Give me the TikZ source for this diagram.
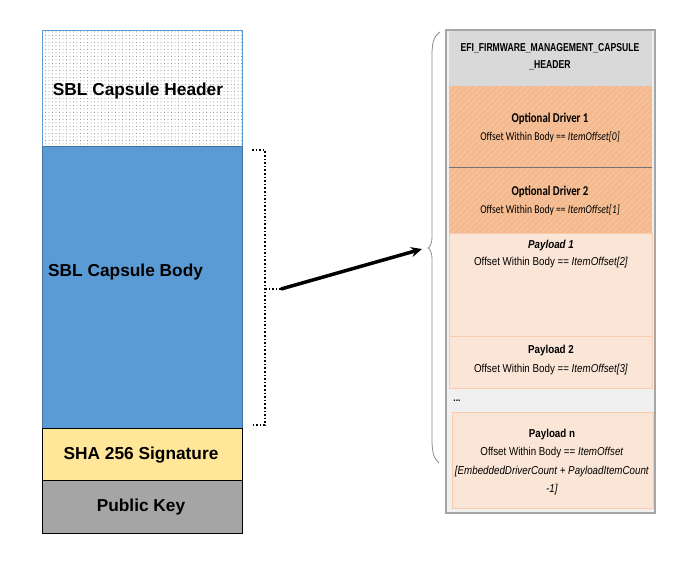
\documentclass[tikz,border=0pt]{standalone}
\usepackage{fontspec}
\setmainfont{Liberation Sans}
\newfontfamily\hdrfont[FakeStretch=0.75]{Liberation Sans}
\newfontfamily\narrowfont[FakeStretch=0.85]{Liberation Sans}
\newfontfamily\calfont[FakeStretch=0.8]{Carlito}
\usetikzlibrary{patterns.meta,arrows.meta}
\definecolor{bodyblue}{HTML}{5B9BD5}
\definecolor{bodyedge}{HTML}{41719C}
\definecolor{shayellow}{HTML}{FFE699}
\definecolor{keygray}{HTML}{A5A5A5}
\definecolor{panelgray}{HTML}{F0F0F0}
\definecolor{paneledge}{HTML}{A6A6A6}
\definecolor{hdrgray}{HTML}{D9D9D9}
\definecolor{drvorange}{HTML}{F4B98E}
\definecolor{drvstripe}{HTML}{F7C8A4}
\definecolor{payfill}{HTML}{FBE5D6}
\definecolor{payedge}{HTML}{F8CBAD}
\definecolor{braceg}{HTML}{8C8C8C}
\tikzset{
  blk/.style={anchor=north west, inner sep=0pt, outer sep=0pt, line width=0.9pt},
  bigtxt/.style={font=\bfseries\fontsize{17.3}{20}\selectfont, inner sep=0pt},
  drvtxt/.style={align=center, inner sep=0pt, font=\calfont\fontsize{12}{18}\selectfont},
  paytxt/.style={align=center, inner sep=0pt, font=\narrowfont\fontsize{11.5}{18.5}\selectfont},
}
\begin{document}
\begin{tikzpicture}[x=1pt,y=-1pt]
\useasboundingbox[fill=white] (0,0) rectangle (693,571);

% ---------- left column ----------
\node[blk, draw=bodyblue, pattern={Dots[radius=0.5pt,distance=3.5pt]}, pattern color=black!50,
      minimum width=200pt, minimum height=116pt] (hdr) at (42,30) {};
\node[bigtxt] (hdrtxt) at (138,91) {SBL Capsule Header};
\node[blk, draw=bodyedge, fill=bodyblue, minimum width=200pt, minimum height=282pt] (body) at (42,146) {};
\node[bigtxt, anchor=west] (bodytxt) at (48,272) {SBL Capsule Body};
\node[blk, draw=black, fill=shayellow, minimum width=200pt, minimum height=52pt] (sha) at (42,428) {};
\node[bigtxt] (shatxt) at (141,455) {SHA 256 Signature};
\node[blk, draw=black, fill=keygray, minimum width=200pt, minimum height=53pt] (key) at (42,480) {};
\node[bigtxt] (keytxt) at (141,507.5) {Public Key};

% ---------- dotted bracket and arrow ----------
\coordinate (bkt1) at (252,150);
\coordinate (bkt2) at (265,150);
\coordinate (bkt3) at (265,425);
\coordinate (bkt4) at (252,425);
\coordinate (bktm) at (265,289);
\coordinate (arrS) at (281,289);
\coordinate (arrE) at (422,249);
\draw[dotted, line width=1.6pt] (bkt1) -- (bkt2) -- (bkt3) -- (bkt4);
\draw[dotted, line width=1.6pt] (bktm) -- (arrS);
\draw[line width=3.5pt, -{Stealth[length=11pt,width=10pt]}] (arrS) -- (arrE);

% ---------- curly brace ----------
\coordinate (brT) at (440,32);
\coordinate (brM) at (428,248);
\coordinate (brB) at (439,463);
\draw[braceg, line width=0.8pt] (brT) .. controls (434,36) and (432,42) .. (432,55)
   -- (432,236) .. controls (432,244) and (430,247) .. (brM)
   .. controls (430,249) and (432,252) .. (432,260)
   -- (432,440) .. controls (432,452) and (434,459) .. (brB);

% ---------- right panel ----------
\node[blk, draw=paneledge, fill=panelgray, line width=1.2pt, minimum width=209pt, minimum height=483pt] (panel) at (446,30) {};
\node[blk, fill=hdrgray, minimum width=203pt, minimum height=55pt] (efi) at (449,31) {};
\node[align=center, inner sep=0pt, font=\hdrfont\bfseries\fontsize{11.5}{17}\selectfont] (efitxt) at (550,57)
  {EFI\_FIRMWARE\_MANAGEMENT\_CAPSULE\\\_HEADER};

\node[blk, fill=drvorange, postaction={pattern={Lines[angle=45,distance=4pt,line width=1.2pt]}, pattern color=drvstripe},
      minimum width=203pt, minimum height=81pt] (drv1) at (449,86) {};
\node[blk, fill=drvorange, postaction={pattern={Lines[angle=45,distance=4pt,line width=1.2pt]}, pattern color=drvstripe},
      minimum width=203pt, minimum height=66pt] (drv2) at (449,167) {};
\draw[black!55, line width=1pt] (drv2.north west) -- (drv2.north east);
\node[drvtxt] (drv1txt) at (550,128) {{\bfseries\fontsize{13.5}{18}\selectfont Optional Driver 1}\\Offset Within Body == \textit{ItemOffset[0]}};
\node[drvtxt] (drv2txt) at (550,201) {{\bfseries\fontsize{13.5}{18}\selectfont Optional Driver 2}\\Offset Within Body == \textit{ItemOffset[1]}};

\node[blk, draw=payedge, fill=payfill, line width=0.8pt, minimum width=203pt, minimum height=103pt] (pay1) at (449,233) {};
\node[paytxt, align=center] (pay1txt) at (551,254) {\textbf{\textit{Payload 1}}\\[-2pt]Offset Within Body == \textit{ItemOffset[2]}};
\node[blk, draw=payedge, fill=payfill, line width=0.8pt, minimum width=203pt, minimum height=52pt] (pay2) at (449,336) {};
\node[paytxt] (pay2txt) at (551,360) {\textbf{Payload 2}\\Offset Within Body == \textit{ItemOffset[3]}};
\node[inner sep=0pt, font=\narrowfont\bfseries\fontsize{10}{12}\selectfont] (dots) at (457,401) {...};
\node[blk, draw=payedge, fill=payfill, line width=0.8pt, minimum width=201pt, minimum height=96pt] (payn) at (452,412) {};
\node[paytxt] (payntxt) at (552,462) {\textbf{Payload n}\\Offset Within Body == \textit{ItemOffset}\\\textit{[EmbeddedDriverCount + PayloadItemCount}\\\textit{-1]}};
\end{tikzpicture}
\end{document}
